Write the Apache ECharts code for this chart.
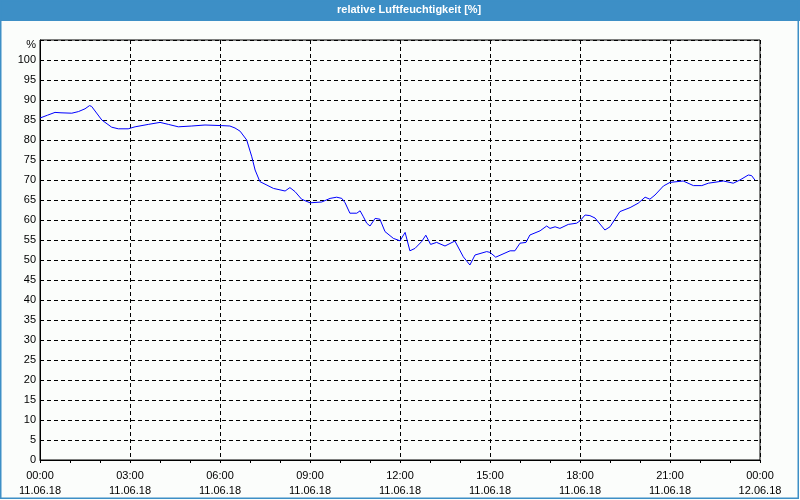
<!DOCTYPE html>
<html>
<head>
<meta charset="utf-8">
<script src="https://cdn.jsdelivr.net/npm/echarts@6/dist/echarts.min.js"></script>
<style>
html,body{margin:0;padding:0;background:#fbfdfb;}
#c{width:800px;height:500px;}
</style>
</head>
<body>
<div id="c"></div>
<script>
const titleText = 'relative Luftfeuchtigkeit [%]';
const hours = [0.0,0.25,0.5,0.7,1.06,1.28,1.5,1.65,1.72,2.06,2.39,2.61,2.94,3.17,3.61,4.0,4.28,4.61,5.06,5.5,6.06,6.33,6.5,6.67,6.89,7.06,7.17,7.33,7.78,8.17,8.33,8.5,8.72,9.0,9.39,9.67,9.89,10.06,10.17,10.33,10.56,10.67,10.78,10.89,11.0,11.17,11.33,11.5,11.78,12.0,12.17,12.33,12.5,12.72,12.86,13.02,13.22,13.5,13.83,14.11,14.33,14.5,14.89,15.0,15.19,15.67,15.83,16.0,16.2,16.33,16.67,16.89,17.0,17.17,17.33,17.61,17.89,18.0,18.17,18.33,18.5,18.83,19.0,19.33,19.67,19.94,20.17,20.33,20.5,20.78,21.0,21.44,21.78,22.06,22.28,22.78,23.11,23.33,23.61,23.72,23.83];
const humidity = [85.5,86.2,86.9,86.8,86.7,87.1,87.8,88.6,88.4,85.0,83.2,82.8,82.8,83.3,83.9,84.4,83.9,83.3,83.5,83.75,83.6,83.5,83.0,82.2,80.0,75.8,72.5,69.6,67.9,67.25,68.1,67.1,65.2,64.3,64.5,65.4,65.7,65.4,64.3,61.7,61.7,62.3,60.8,59.2,58.5,60.4,60.2,57.1,55.4,54.8,56.9,52.3,52.9,54.6,56.2,53.9,54.4,53.5,54.75,50.8,48.75,51.25,52.1,51.9,50.7,52.3,52.3,54.2,54.4,56.25,57.3,58.5,57.9,58.3,57.9,58.9,59.2,59.8,61.25,61.1,60.5,57.5,58.3,62.1,63.1,64.2,65.7,65.2,66.25,68.5,69.4,69.75,68.6,68.6,69.2,69.75,69.2,70.0,71.25,71.1,70.0];
const xTickTimes = ['00:00','03:00','06:00','09:00','12:00','15:00','18:00','21:00','00:00'];
const xTickDates = ['11.06.18','11.06.18','11.06.18','11.06.18','11.06.18','11.06.18','11.06.18','11.06.18','12.06.18'];
const yUnit = '%';

const data = hours.map((h,i)=>[h, humidity[i]]);
const chart = echarts.init(document.getElementById('c'), null, {renderer:'canvas'});
const font = '"Liberation Sans", Arial, sans-serif';
chart.setOption({
  backgroundColor:'#fbfdfb',
  animation:false,
  graphic:[
    {type:'rect', shape:{x:0,y:0,width:800,height:21}, style:{fill:'#3d8fc6'}, z:0},
    {type:'rect', shape:{x:0.75,y:0.75,width:797.5,height:497.5}, style:{fill:'none', stroke:'#3d8fc6', lineWidth:1.5}, z:0},
    {type:'text', left:337, top:4, style:{text:titleText, fill:'#ffffff', font:'bold 11px '+font}, z:10}
  ],
  grid:{left:40,right:40,top:40,bottom:40,show:true,borderColor:'#000',borderWidth:1,backgroundColor:'transparent'},
  xAxis:{
    type:'value', min:0, max:24, interval:3,
    axisLine:{show:true, lineStyle:{color:'#000'}},
    axisTick:{show:true, length:3, lineStyle:{color:'#000'}},
    minorTick:{show:true, splitNumber:3, length:3, lineStyle:{color:'#000'}},
    splitLine:{show:true, lineStyle:{color:'#000', type:[4,3], width:1}},
    axisLabel:{
      color:'#000', fontFamily:font, fontSize:11, margin:8, lineHeight:15,
      formatter:function(v){ const i=Math.round(v/3); return xTickTimes[i]+'\n'+xTickDates[i]; }
    }
  },
  yAxis:{
    type:'value', min:0, max:105, interval:5,
    axisLine:{show:true, lineStyle:{color:'#000'}},
    axisTick:{show:false},
    splitLine:{show:true, lineStyle:{color:'#000', type:[4,3], width:1}},
    axisLabel:{
      color:'#000', fontFamily:font, fontSize:11, margin:4,
      formatter:function(v){ return v===105 ? '{u|'+yUnit+'}' : String(v); },
      rich:{u:{color:'#000', fontFamily:font, fontSize:11, padding:[9,0,0,0]}}
    }
  },
  series:[{
    type:'line', data:data, showSymbol:false, symbol:'none',
    lineStyle:{color:'#0000ff', width:1}, itemStyle:{color:'#0000ff'}
  }]
});
</script>
</body>
</html>
